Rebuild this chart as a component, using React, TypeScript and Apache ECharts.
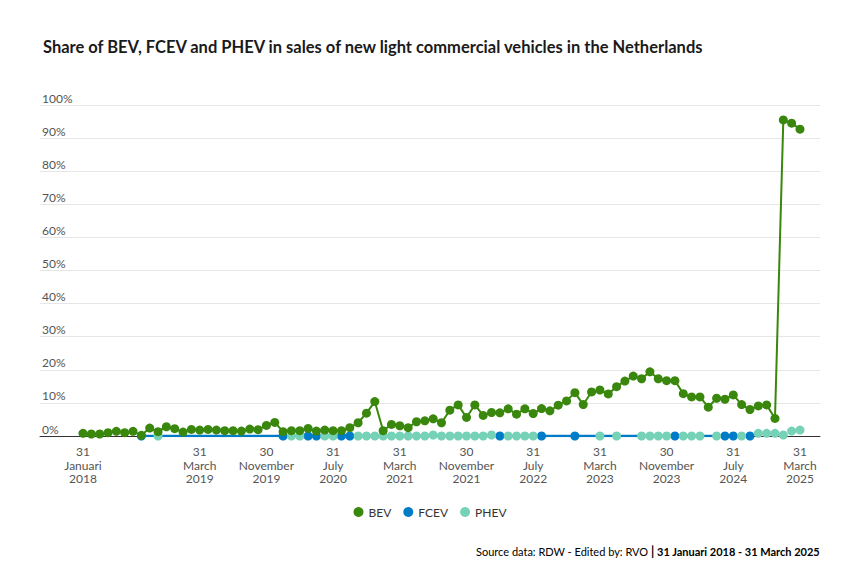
import React, { useEffect, useRef } from "react";
import * as echarts from "echarts";

// Monthly data, 31 Januari 2018 (index 0) .. 31 March 2025 (index 86)
const bevShare: number[] = [
  0.8, 0.6, 0.6, 1.0, 1.4, 1.0, 1.4, 0.2, 2.4, 1.3, 2.8, 2.2, 1.2, 2.0, 1.8, 2.0, 1.8, 1.6, 1.6, 1.5,
  2.1, 1.9, 3.2, 4.1, 1.3, 1.6, 1.6, 2.3, 1.5, 1.8, 1.6, 1.6, 2.5, 4.0, 6.9, 10.4, 1.6, 3.5, 3.1, 2.5,
  4.3, 4.6, 5.2, 4.0, 7.8, 9.4, 5.6, 9.4, 6.2, 7.1, 7.0, 8.2, 6.6, 8.2, 6.8, 8.3, 7.6, 9.3, 10.6, 13.1,
  9.5, 13.3, 13.9, 12.7, 14.9, 16.6, 18.1, 17.3, 19.4, 17.3, 16.7, 16.7, 12.8, 11.8, 11.8, 8.7, 11.4, 11.1, 12.4, 9.5,
  8.0, 9.1, 9.4, 5.3, 95.5, 94.5, 92.7,
];

// null = no reported point
const fcevShare: (number | null)[] = [
  null, null, null, null, null, null, null, 0, null, null, null, null, null, null, null, null, null, null, null, null,
  null, null, null, null, 0, null, null, 0, 0, null, null, 0, 0, null, null, null, null, null, null, null,
  null, null, null, null, null, null, null, null, null, null, 0, null, null, null, null, 0, null, null, null, 0,
  null, null, null, null, null, null, null, null, null, null, null, 0, null, null, null, null, null, 0, 0, null,
  0, null, null, null, null, null, null,
];

const phevShare: (number | null)[] = [
  null, null, null, null, null, null, null, null, null, 0, null, null, null, null, null, null, null, null, null, null,
  null, null, null, null, null, 0, 0, null, null, 0, 0, null, null, 0, 0, 0, 0, 0, 0, 0,
  0, 0, 0.3, 0, 0, 0, 0, 0, 0, 0.3, null, 0, 0, 0, 0, null, null, null, null, null,
  null, null, 0, null, 0, null, null, 0, 0, 0, 0, null, 0, 0, 0, null, 0, null, null, 0,
  null, 0.8, 0.8, 0.8, 0.3, 1.5, 1.8,
];

const tickIndices: number[] = [0, 14, 22, 30, 38, 46, 54, 62, 70, 78, 86];
const tickLabels: string[] = [
  "31\nJanuari\n2018",
  "31\nMarch\n2019",
  "30\nNovember\n2019",
  "31\nJuly\n2020",
  "31\nMarch\n2021",
  "30\nNovember\n2021",
  "31\nJuly\n2022",
  "31\nMarch\n2023",
  "30\nNovember\n2023",
  "31\nJuly\n2024",
  "31\nMarch\n2025",
];

const seriesNames = ["BEV", "FCEV", "PHEV"];
const colors = ["#39870c", "#007bc7", "#76d2b6"];

const FONT = "Lato, 'Noto Sans', sans-serif";

export default function App() {
  const ref = useRef<HTMLDivElement>(null);

  useEffect(() => {
    if (!ref.current) return;
    const chart = echarts.init(ref.current, undefined, { renderer: "svg" });
    const toPairs = (arr: (number | null)[]) => arr.map((v, i) => [i, v]);

    chart.setOption({
      animation: false,
      color: colors,
      textStyle: { fontFamily: FONT },
      title: {
        text: "Share of BEV, FCEV and PHEV in sales of new light commercial vehicles in the Netherlands",
        left: 38,
        top: 33,
        textStyle: { fontFamily: FONT, fontSize: 16.5, fontWeight: "bold", color: "#1a1a1a" },
      },
      legend: {
        data: seriesNames,
        top: 501,
        left: "center",
        icon: "circle",
        itemWidth: 10,
        itemHeight: 10,
        itemGap: 12,
        textStyle: { fontFamily: FONT, fontSize: 12, color: "#333" },
      },
      grid: { left: 40, right: 40, top: 105, bottom: 144 },
      xAxis: {
        type: "value",
        min: -5.158,
        max: 88.4,
        splitLine: { show: false },
        axisTick: { show: false },
        axisLine: { show: true, lineStyle: { color: "#333", width: 1 } },
        axisLabel: {
          customValues: tickIndices,
          formatter: (v: number) => {
            const k = tickIndices.indexOf(Math.round(v));
            return k >= 0 ? tickLabels[k] : "";
          },
          color: "#555",
          fontSize: 12,
          lineHeight: 13.5,
          margin: 9,
          fontFamily: FONT,
        },
      },
      yAxis: {
        type: "value",
        min: 0,
        max: 100,
        interval: 10,
        axisLine: { show: false },
        axisTick: { show: false },
        splitLine: { lineStyle: { color: "#e6e6e6", width: 1 } },
        axisLabel: {
          inside: true,
          verticalAlign: "bottom",
          margin: 2,
          padding: [0, 0, 1, 0],
          formatter: "{value}%",
          color: "#555",
          fontSize: 12,
          fontFamily: FONT,
        },
      },
      series: [
        {
          name: "BEV",
          type: "line",
          data: toPairs(bevShare),
          symbol: "circle",
          symbolSize: 9,
          lineStyle: { width: 2, color: colors[0] },
          itemStyle: { color: colors[0] },
          z: 5,
        },
        {
          name: "FCEV",
          type: "line",
          data: toPairs(fcevShare),
          connectNulls: true,
          symbol: "circle",
          symbolSize: 9,
          lineStyle: { width: 2.5, color: colors[1] },
          itemStyle: { color: colors[1] },
          z: 3,
        },
        {
          name: "PHEV",
          type: "line",
          data: toPairs(phevShare),
          symbol: "circle",
          symbolSize: 9,
          lineStyle: { width: 0, opacity: 0, color: colors[2] },
          itemStyle: { color: colors[2] },
          z: 4,
        },
      ],
      graphic: [
        {
          type: "text",
          right: 40,
          top: 545,
          style: {
            text: "{a|Source data: RDW - Edited by: RVO }{b||}{c| 31 Januari 2018 - 31 March 2025}",
            rich: {
              a: { fontFamily: FONT, fontSize: 11, color: "#333" },
              b: { fontFamily: FONT, fontSize: 12.5, fontWeight: "bold", color: "#42145f" },
              c: { fontFamily: FONT, fontSize: 11, fontWeight: "bold", color: "#1a1a1a" },
            },
          },
        },
      ],
    });
    return () => chart.dispose();
  }, []);

  return <div ref={ref} style={{ width: 860, height: 580, margin: -8 }} />;
}
